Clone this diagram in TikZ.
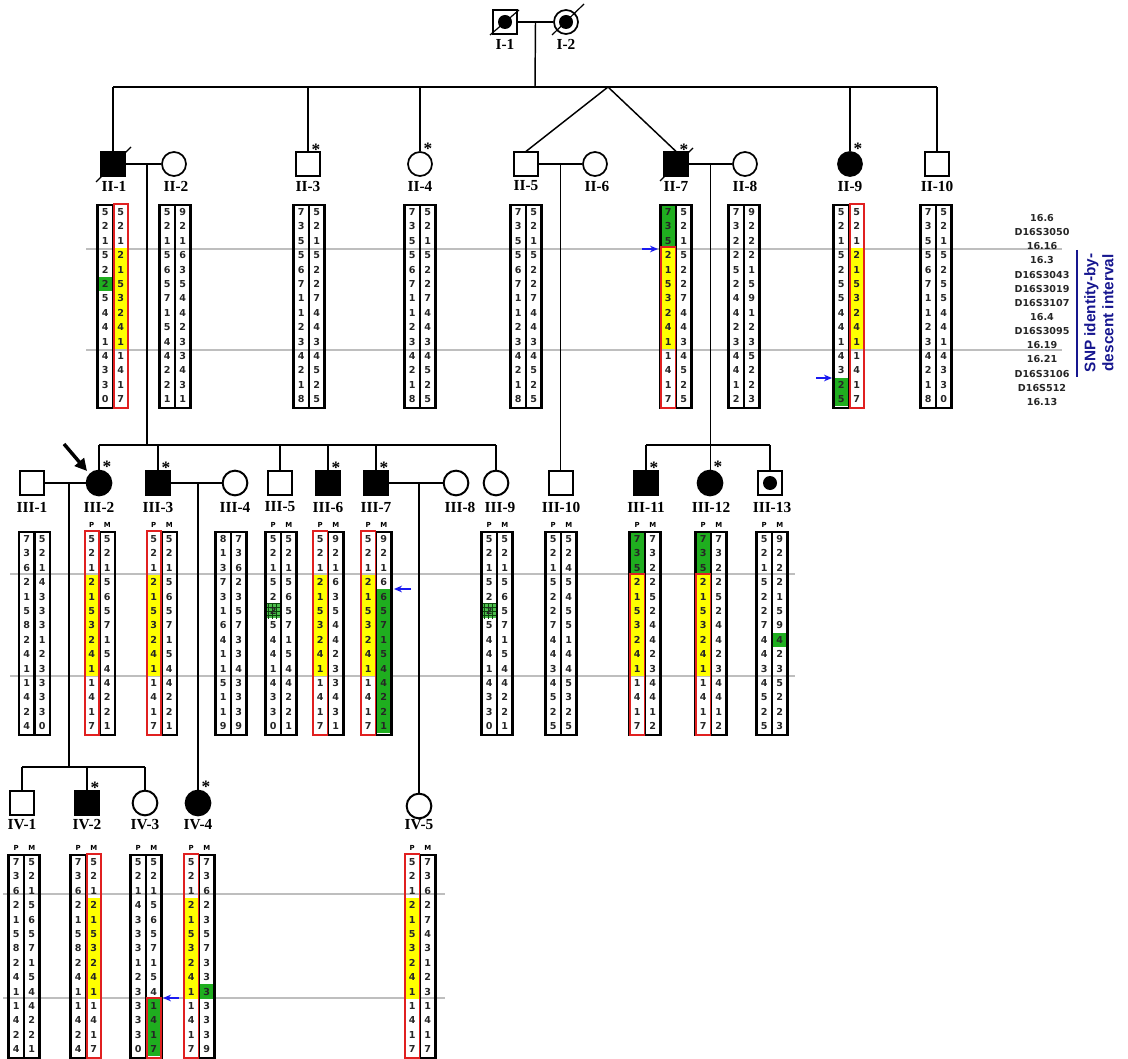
\documentclass[tikz,border=0pt]{standalone}
\usepackage{fontspec}
\usepackage{tikz}
\usetikzlibrary{arrows.meta,calc,patterns}
\newfontfamily\hapfont{DejaVu Sans}
\newfontfamily\idfont{Liberation Serif}
\newfontfamily\barfont{Liberation Sans}
\definecolor{ibd}{HTML}{FFFF00}
\definecolor{snpgreen}{HTML}{1FAE1F}
\definecolor{hapred}{HTML}{E02020}
\definecolor{arrblue}{HTML}{1A1AF0}
\definecolor{barblue}{HTML}{16168F}
\definecolor{bandgray}{HTML}{BEBEBE}
\newcommand{\hapcol}[4]{\foreach \hd [count=\hr from 0] in {#4}
  {\node[dig] (#1-\hr) at (#2+7.75,#3+7+14.4*\hr) {\hd};}}
\newcommand{\haplo}[7]{%
  \hapcol{#1P}{#2-15.5}{#3}{#4}
  \hapcol{#1M}{#2}{#3}{#5}
  \draw[#6] (#2-15.5,#3) rectangle (#2,#3+203);
  \draw[#7] (#2,#3) rectangle (#2+15.5,#3+203);}
\newcommand{\hapcell}[5]{\path[#5] (#1,#2+14.4*#3-0.2) rectangle (#1+15.5,#2+14.4*#4+14.2);}
\newcommand{\hapred}[4]{\draw[redframe] (#1+0.6,#2+14.4*#3-1) rectangle (#1+15,#2+14.4*#4+15.4);}
\newcommand{\pmlab}[3]{\node[pm] (#1p) at (#2-7.75,#3-7) {P};
  \node[pm] (#1m) at (#2+7.75,#3-7) {M};}
\begin{document}
\begin{tikzpicture}[x=0.75pt,y=-0.75pt,
  dig/.style={font=\hapfont\bfseries\fontsize{7.2}{8}\selectfont, text=black!85, inner sep=0},
  pm/.style={font=\hapfont\bfseries\fontsize{5.2}{6}\selectfont, inner sep=0},
  mk/.style={font=\hapfont\bfseries\fontsize{7.2}{8}\selectfont, text=black!85, inner sep=0},
  hapframe/.style={line width=1.9pt},
  nofr/.style={draw=none},
  redframe/.style={draw=hapred, line width=1.4pt},
  ibdfill/.style={fill=ibd},
  grnfill/.style={fill=snpgreen},
  hatch/.style={fill=snpgreen!80, postaction={pattern=grid, pattern color=snpgreen!40!black}},
  sq/.style={draw, rectangle, minimum size=17.6pt, inner sep=0, line width=1.3pt},
  ci/.style={draw, circle, minimum size=18pt, inner sep=0, line width=1.3pt},
  sqb/.style={draw, rectangle, minimum size=17.5pt, inner sep=0, line width=1.5pt},
  cib/.style={draw, circle, minimum size=18.5pt, inner sep=0, line width=1.5pt},
  aff/.style={fill=black},
  dot/.style={circle, fill=black, minimum size=10.5pt, inner sep=0},
  idt/.style={font=\idfont\bfseries\fontsize{11.5}{12}\selectfont, inner sep=0},
  ast/.style={font=\idfont\bfseries\fontsize{13}{13}\selectfont, inner sep=0},
  lin/.style={line width=1.1pt},
  dec/.style={line width=0.9pt},
  band/.style={draw=bandgray, line width=1pt},
  blarr/.style={-{Stealth[length=6pt,width=5pt]}, draw=arrblue, line width=1.1pt},
  proband/.style={-{Triangle[length=9pt,width=9pt]}, line width=2.6pt}]
\useasboundingbox (0,0) rectangle (1128,1059);

\foreach \yy in {249,350} {\draw[band] (86,\yy) -- (1062,\yy);}
\foreach \yy in {574,676} {\draw[band] (10,\yy) -- (795,\yy);}
\foreach \yy in {894,998} {\draw[band] (3,\yy) -- (445,\yy);}

% generation I
\node[sq] (I1) at (505,22) {};
\node[dot] (I1d) at (I1) {};
\node[ci] (I2) at (566,22) {};
\node[dot] (I2d) at (I2) {};
\draw[dec] ([shift={(-15,13)}]I1.center) -- ([shift={(14,-12)}]I1.center);
\draw[dec] ([shift={(-14,13)}]I2.center) -- ([shift={(18,-18)}]I2.center);
\node[idt] (I1t) at (505,44) {I-1};
\node[idt] (I2t) at (566,44) {I-2};

% generation II
\node[sq,aff] (II1) at (113,164) {};
\node[ci] (II2) at (174,164) {};
\node[sq] (II3) at (308,164) {};
\node[ci] (II4) at (420,164) {};
\node[sq] (II5) at (526,164) {};
\node[ci] (II6) at (595,164) {};
\node[sq,aff] (II7) at (676,164) {};
\node[ci] (II8) at (745,164) {};
\node[ci,aff] (II9) at (850,164) {};
\node[sq] (II10) at (937,164) {};
\draw[dec] ([shift={(-17,18)}]II1.center) -- ([shift={(18,-17)}]II1.center);
\draw[dec] ([shift={(-16,17)}]II7.center) -- ([shift={(17,-16)}]II7.center);
\foreach \n in {II3,II4,II7,II9}
  {\node[ast] (\n s) at ($(\n.north)+(8,-2)$) {*};}
\foreach \n/\x/\t in {II1/114/II-1,II2/176/II-2,II3/308/II-3,II4/420/II-4,II5/526/II-5,
  II6/597/II-6,II7/676/II-7,II8/745/II-8,II9/850/II-9,II10/937/II-10}
  {\node[idt] (\n t) at (\x,186) {\t};}

% generation III
\node[sqb] (III1) at (32,483) {};
\node[cib,aff] (III2) at (99,483) {};
\node[sqb,aff] (III3) at (158,483) {};
\node[cib] (III4) at (235,483) {};
\node[sqb] (III5) at (280,483) {};
\node[sqb,aff] (III6) at (328,483) {};
\node[sqb,aff] (III7) at (376,483) {};
\node[cib] (III8) at (456,483) {};
\node[cib] (III9) at (496,483) {};
\node[sqb] (III10) at (561,483) {};
\node[sqb,aff] (III11) at (646,483) {};
\node[cib,aff] (III12) at (710,483) {};
\node[sqb] (III13) at (770,483) {};
\node[dot] (III13d) at (III13) {};
\foreach \n in {III2,III3,III6,III7,III11,III12}
  {\node[ast] (\n s) at ($(\n.north)+(8,-3)$) {*};}
\foreach \n/\x/\t in {III1/32/III-1,III2/99/III-2,III3/158/III-3,III4/235/III-4,III5/280/III-5,
  III6/328/III-6,III7/376/III-7,III8/460/III-8,III9/500/III-9,III10/561/III-10,
  III11/646/III-11,III12/711/III-12,III13/772/III-13}
  {\node[idt] (\n t) at (\x,507) {\t};}

% generation IV
\node[sqb] (IV1) at (22,803) {};
\node[sqb,aff] (IV2) at (87,803) {};
\node[cib] (IV3) at (145,803) {};
\node[cib,aff] (IV4) at (198,803) {};
\node[cib] (IV5) at (419,806) {};
\foreach \n in {IV2,IV4}
  {\node[ast] (\n s) at ($(\n.north)+(8,-3)$) {*};}
\foreach \n/\x/\t in {IV1/22/IV-1,IV2/87/IV-2,IV3/145/IV-3,IV4/198/IV-4,IV5/419/IV-5}
  {\node[idt] (\n t) at (\x,825) {\t};}

% lines of descent
\coordinate (mI) at ($(I1)!0.5!(I2)$);
\coordinate (sII) at (535,87);
\coordinate (tw) at (608,87);
\draw[lin] (I1) -- (I2);
\draw[lin] (mI) -- (sII);
\draw[lin] (II1.north |- sII) -- (II10.north |- sII);
\foreach \n in {II1,II3,II4,II9,II10} {\draw[lin] (\n.north |- sII) -- (\n.north);}
\draw[lin] (II5.north) -- (tw) -- (II7.north);
\draw[lin] (II1) -- (II2);
\draw[lin] (II5) -- (II6);
\draw[lin] (II7) -- (II8);
\coordinate (mII1) at (147,164);
\coordinate (sIII) at (147,445);
\coordinate (mII5) at ($(II5)!0.5!(II6)$);
\coordinate (mII7) at ($(II7)!0.5!(II8)$);
\draw[lin] (mII1) -- (sIII);
\draw[lin] (III2.north |- sIII) -- (III9.north |- sIII);
\foreach \n in {III2,III3,III5,III6,III7,III9} {\draw[lin] (\n.north |- sIII) -- (\n.north);}
\draw[lin] (mII5) -- (mII5 |- III10.north);
\draw[lin] (mII7) -- (mII7 |- III12.north);
\draw[lin] (III11.north |- sIII) -- (III13.north |- sIII);
\foreach \n in {III11,III13} {\draw[lin] (\n.north |- sIII) -- (\n.north);}
\draw[lin] (III1) -- (III2);
\draw[lin] (III3) -- (III4);
\draw[lin] (III7) -- (III8);
\coordinate (mIII1) at (69,483);
\coordinate (sIV) at (69,767);
\coordinate (mIII3) at (198,483);
\coordinate (mIII7) at (419,483);
\draw[lin] (mIII1) -- (sIV);
\draw[lin] (IV1.north |- sIV) -- (IV3.north |- sIV);
\foreach \n in {IV1,IV2,IV3} {\draw[lin] (\n.north |- sIV) -- (\n.north);}
\draw[lin] (mIII3) -- (IV4.north);
\draw[lin] (mIII7) -- (IV5.north);
\coordinate (pb) at (64,444);
\draw[proband] (pb) -- ([shift={(-12,-12)}]III2.center);

% haplotypes, generation II
\hapcell{97.5}{205}{5}{5}{grnfill}
\hapcell{113}{205}{3}{9}{ibdfill}
\hapcell{660.5}{205}{0}{2}{grnfill}
\hapcell{660.5}{205}{3}{9}{ibdfill}
\hapcell{833.5}{205}{12}{13}{grnfill}
\hapcell{849}{205}{3}{9}{ibdfill}
\haplo{II1}{113}{205}{5,2,1,5,2,2,5,4,4,1,4,3,3,0}{5,2,1,2,1,5,3,2,4,1,1,4,1,7}{hapframe}{nofr}
\haplo{II2}{175}{205}{5,2,1,5,6,5,7,1,5,4,4,2,2,1}{9,2,1,6,3,5,4,4,2,3,3,4,3,1}{hapframe}{hapframe}
\haplo{II3}{309}{205}{7,3,5,5,6,7,1,1,2,3,4,2,1,8}{5,2,1,5,2,2,7,4,4,3,4,5,2,5}{hapframe}{hapframe}
\haplo{II4}{420}{205}{7,3,5,5,6,7,1,1,2,3,4,2,1,8}{5,2,1,5,2,2,7,4,4,3,4,5,2,5}{hapframe}{hapframe}
\haplo{II5}{526}{205}{7,3,5,5,6,7,1,1,2,3,4,2,1,8}{5,2,1,5,2,2,7,4,4,3,4,5,2,5}{hapframe}{hapframe}
\haplo{II7}{676}{205}{7,3,5,2,1,5,3,2,4,1,1,4,1,7}{5,2,1,5,2,2,7,4,4,3,4,5,2,5}{hapframe}{hapframe}
\haplo{II8}{744}{205}{7,3,2,2,5,2,4,4,2,3,4,4,1,2}{9,2,2,2,1,5,9,1,2,3,5,2,2,3}{hapframe}{hapframe}
\haplo{II9}{849}{205}{5,2,1,5,2,5,5,4,4,1,4,3,2,5}{5,2,1,2,1,5,3,2,4,1,1,4,1,7}{hapframe}{nofr}
\haplo{II10}{936}{205}{7,3,5,5,6,7,1,1,2,3,4,2,1,8}{5,2,1,5,2,5,5,4,4,1,4,3,3,0}{hapframe}{hapframe}
\hapred{113}{205}{0}{13}
\hapred{660.5}{205}{3}{13}
\hapred{849}{205}{0}{13}

% haplotypes, generation III
\hapcell{84}{532}{3}{9}{ibdfill}
\hapcell{146}{532}{3}{9}{ibdfill}
\hapcell{265.5}{532}{5}{5}{hatch}
\hapcell{312.5}{532}{3}{9}{ibdfill}
\hapcell{360.5}{532}{3}{9}{ibdfill}
\hapcell{376}{532}{4}{13}{grnfill}
\hapcell{481.5}{532}{5}{5}{hatch}
\hapcell{629.5}{532}{0}{2}{grnfill}
\hapcell{629.5}{532}{3}{9}{ibdfill}
\hapcell{695.5}{532}{0}{2}{grnfill}
\hapcell{695.5}{532}{3}{9}{ibdfill}
\hapcell{772}{532}{7}{7}{grnfill}
\haplo{III1}{34.5}{532}{7,3,6,2,1,5,8,2,4,1,1,4,2,4}{5,2,1,4,3,3,3,1,2,3,3,3,3,0}{hapframe}{hapframe}
\haplo{III2}{99.5}{532}{5,2,1,2,1,5,3,2,4,1,1,4,1,7}{5,2,1,5,6,5,7,1,5,4,4,2,2,1}{nofr}{hapframe}
\haplo{III3}{161.5}{532}{5,2,1,2,1,5,3,2,4,1,1,4,1,7}{5,2,1,5,6,5,7,1,5,4,4,2,2,1}{nofr}{hapframe}
\haplo{III4}{231}{532}{8,1,3,7,3,1,6,4,1,1,5,1,1,9}{7,3,6,2,3,5,7,3,3,4,3,3,3,9}{hapframe}{hapframe}
\haplo{III5}{281}{532}{5,2,1,5,2,2,5,4,4,1,4,3,3,0}{5,2,1,5,6,5,7,1,5,4,4,2,2,1}{hapframe}{hapframe}
\haplo{III6}{328}{532}{5,2,1,2,1,5,3,2,4,1,1,4,1,7}{9,2,1,6,3,5,4,4,2,3,3,4,3,1}{nofr}{hapframe}
\haplo{III7}{376}{532}{5,2,1,2,1,5,3,2,4,1,1,4,1,7}{9,2,1,6,6,5,7,1,5,4,4,2,2,1}{nofr}{hapframe}
\haplo{III9}{497}{532}{5,2,1,5,2,2,5,4,4,1,4,3,3,0}{5,2,1,5,6,5,7,1,5,4,4,2,2,1}{hapframe}{hapframe}
\haplo{III10}{561}{532}{5,2,1,5,2,2,7,4,4,3,4,5,2,5}{5,2,4,5,4,5,5,1,4,4,5,3,2,5}{hapframe}{hapframe}
\haplo{III11}{645}{532}{7,3,5,2,1,5,3,2,4,1,1,4,1,7}{7,3,2,2,5,2,4,4,2,3,4,4,1,2}{hapframe}{hapframe}
\haplo{III12}{711}{532}{7,3,5,2,1,5,3,2,4,1,1,4,1,7}{7,3,2,2,5,2,4,4,2,3,4,4,1,2}{hapframe}{hapframe}
\haplo{III13}{772}{532}{5,2,1,5,2,2,7,4,4,3,4,5,2,5}{9,2,2,2,1,5,9,4,2,3,5,2,2,3}{hapframe}{hapframe}
\hapred{84}{532}{0}{13}
\hapred{146}{532}{0}{13}
\hapred{312.5}{532}{0}{13}
\hapred{360.5}{532}{0}{13}
\hapred{629.5}{532}{3}{13}
\hapred{695.5}{532}{3}{13}
\foreach \n/\x in {III2/99.5,III3/161.5,III5/281,III6/328,III7/376,III9/497,III10/561,III11/645,III12/711,III13/772}
  {\pmlab{\n}{\x}{532}}

% haplotypes, generation IV
\hapcell{86}{855}{3}{9}{ibdfill}
\hapcell{146}{855}{10}{13}{grnfill}
\hapcell{183.5}{855}{3}{9}{ibdfill}
\hapcell{199}{855}{9}{9}{grnfill}
\hapcell{404.5}{855}{3}{9}{ibdfill}
\haplo{IV1}{24}{855}{7,3,6,2,1,5,8,2,4,1,1,4,2,4}{5,2,1,5,6,5,7,1,5,4,4,2,2,1}{hapframe}{hapframe}
\haplo{IV2}{86}{855}{7,3,6,2,1,5,8,2,4,1,1,4,2,4}{5,2,1,2,1,5,3,2,4,1,1,4,1,7}{hapframe}{nofr}
\haplo{IV3}{146}{855}{5,2,1,4,3,3,3,1,2,3,3,3,3,0}{5,2,1,5,6,5,7,1,5,4,1,4,1,7}{hapframe}{hapframe}
\haplo{IV4}{199}{855}{5,2,1,2,1,5,3,2,4,1,1,4,1,7}{7,3,6,2,3,5,7,3,3,3,3,3,3,9}{nofr}{hapframe}
\haplo{IV5}{420}{855}{5,2,1,2,1,5,3,2,4,1,1,4,1,7}{7,3,6,2,7,4,3,1,2,3,1,4,1,7}{nofr}{hapframe}
\hapred{86}{855}{0}{13}
\hapred{146}{855}{10}{13}
\hapred{183.5}{855}{0}{13}
\hapred{404.5}{855}{0}{13}
\foreach \n/\x in {IV1/24,IV2/86,IV3/146,IV4/199,IV5/420}
  {\pmlab{\n}{\x}{855}}

% recombination arrows
\coordinate (ar1) at (642,249);
\coordinate (ar2) at (816,378);
\coordinate (ar3) at (411,589);
\coordinate (ar4) at (179,998);
\draw[blarr] (ar1) -- ++(16,0);
\draw[blarr] (ar2) -- ++(16,0);
\draw[blarr] (ar3) -- ++(-17,0);
\draw[blarr] (ar4) -- ++(-16,0);

% markers
\foreach \t [count=\k from 0] in {16.6,D16S3050,16.16,16.3,D16S3043,D16S3019,D16S3107,
  16.4,D16S3095,16.19,16.21,D16S3106,D16S512,16.13}
  {\node[mk] (mk\k) at (1042,218+14.15*\k) {\t};}
\coordinate (bar1) at (1077,250);
\coordinate (bar2) at (1077,377);
\draw[draw=barblue, line width=2.2pt] (bar1) -- (bar2);
\node[rotate=90, align=center, text=barblue, inner sep=0,
  font=\barfont\bfseries\fontsize{11.5}{13.5}\selectfont] (snp) at (1099,313) {SNP identity-by-\\descent interval};
\end{tikzpicture}
\end{document}
